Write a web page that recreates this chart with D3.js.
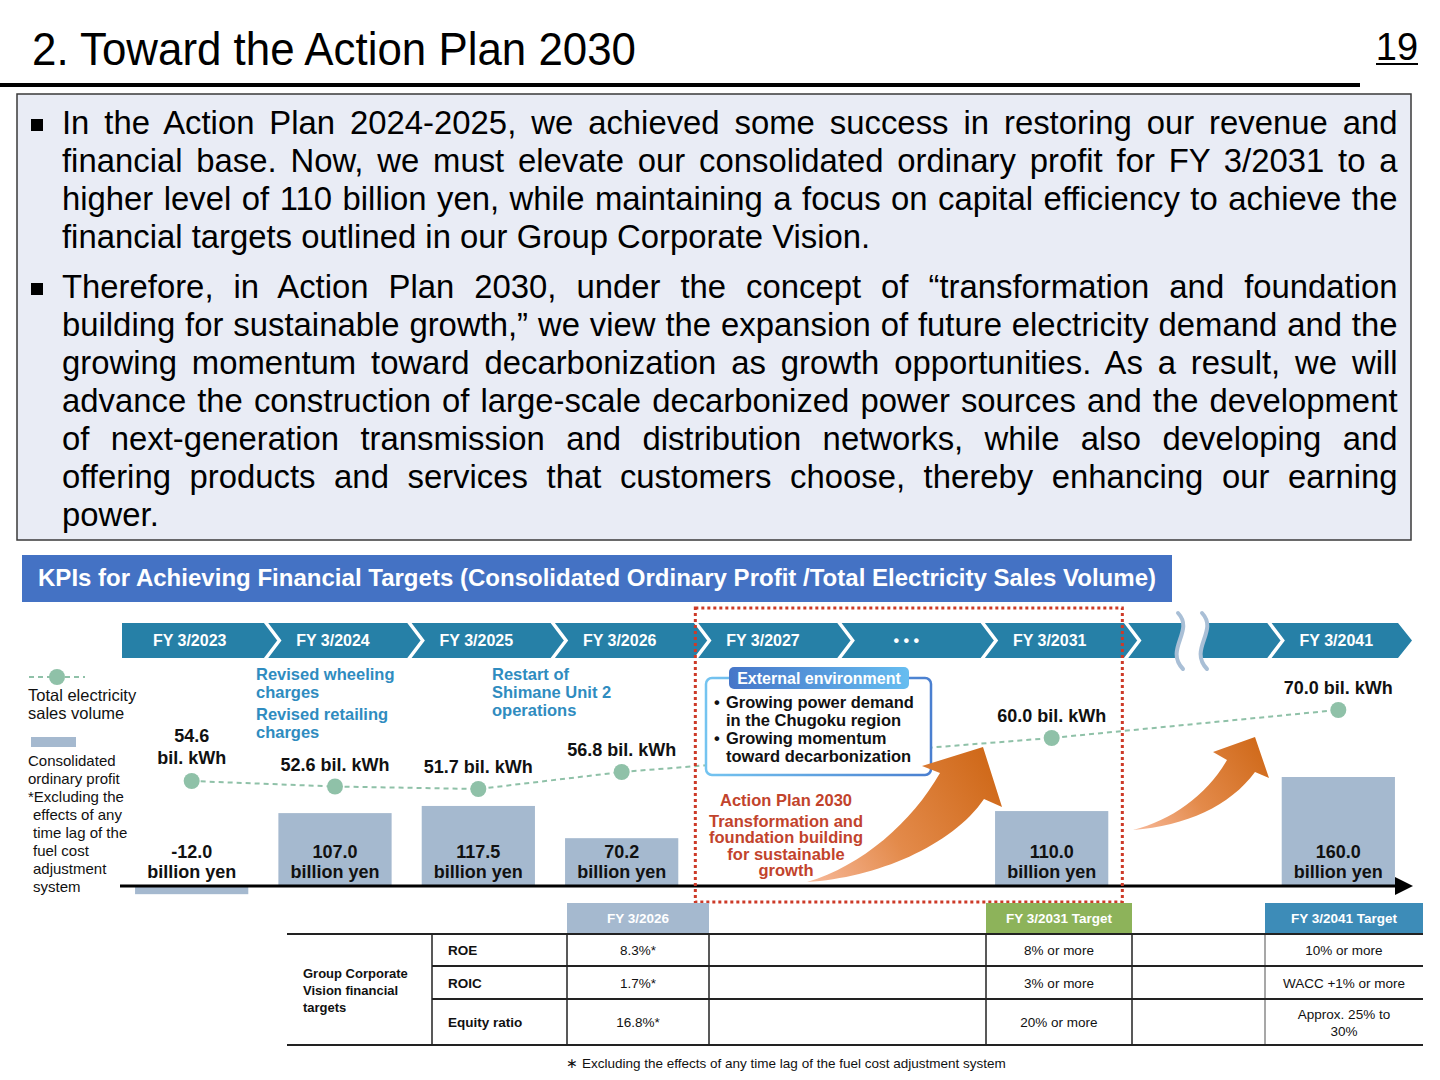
<!DOCTYPE html>
<html>
<head>
<meta charset="utf-8">
<script src="https://cdn.jsdelivr.net/npm/d3@7"></script>
<style>
  body { margin: 0; background: #fff; }
  svg { display: block; }
</style>
</head>
<body>
<div id="slide"></div>
<script>
// timeline slots (the chevron band), "gap" and "break" have no bar
var slots = ["FY 3/2023", "FY 3/2024", "FY 3/2025", "FY 3/2026", "FY 3/2027", "gap", "FY 3/2031", "break", "FY 3/2041"];
var slotLabels = ["FY 3/2023", "FY 3/2024", "FY 3/2025", "FY 3/2026", "FY 3/2027", "• • •", "FY 3/2031", "", "FY 3/2041"];

// consolidated ordinary profit (billion yen) and total sales volume (bil. kWh)
var years = ["FY 3/2023", "FY 3/2024", "FY 3/2025", "FY 3/2026", "FY 3/2031", "FY 3/2041"];
var profit = [-12.0, 107.0, 117.5, 70.2, 110.0, 160.0];
var sales = [54.6, 52.6, 51.7, 56.8, 60.0, 70.0];

// KPI table
var kpiNames = ["ROE", "ROIC", "Equity ratio"];
var kpiHeads = ["FY 3/2026", "FY 3/2031 Target", "FY 3/2041 Target"];
var kpi2026 = ["8.3%*", "1.7%*", "16.8%*"];
var kpi2031 = ["8% or more", "3% or more", "20% or more"];
var kpi2041 = ["10% or more", "WACC +1% or more", "Approx. 25% to|30%"];

var para1 = [
  "In the Action Plan 2024-2025, we achieved some success in restoring our revenue and",
  "financial base. Now, we must elevate our consolidated ordinary profit for FY 3/2031 to a",
  "higher level of 110 billion yen, while maintaining a focus on capital efficiency to achieve the",
  "financial targets outlined in our Group Corporate Vision."
];
var para2 = [
  "Therefore, in Action Plan 2030, under the concept of \u201ctransformation and foundation",
  "building for sustainable growth,\u201d we view the expansion of future electricity demand and the",
  "growing momentum toward decarbonization as growth opportunities. As a result, we will",
  "advance the construction of large-scale decarbonized power sources and the development",
  "of next-generation transmission and distribution networks, while also developing and",
  "offering products and services that customers choose, thereby enhancing our earning",
  "power."
];

var SANS = "'Liberation Sans', Arial, sans-serif";
var NARROW = "'Liberation Sans Narrow', 'Arial Narrow', 'Liberation Sans', Arial, sans-serif";

var svg = d3.select("#slide").append("svg")
  .attr("width", 1440)
  .attr("height", 1080)
  .attr("font-family", SANS);

var fmt = function(v) { return d3.format(".1f")(v).replace("\u2212", "-"); };

var defs = svg.append("defs");
function grad(id, x1, y1, x2, y2, stops) {
  var g = defs.append("linearGradient").attr("id", id)
    .attr("gradientUnits", "userSpaceOnUse")
    .attr("x1", x1).attr("y1", y1).attr("x2", x2).attr("y2", y2);
  stops.forEach(function(s) {
    g.append("stop").attr("offset", s[0]).attr("stop-color", s[1]);
  });
}
grad("arrow1", 810, 880, 990, 770, [[0, "#f7b898"], [0.45, "#e38a4a"], [1, "#d06a1b"]]);
grad("arrow2", 1135, 828, 1260, 745, [[0, "#f7b898"], [0.45, "#e38a4a"], [1, "#d06a1b"]]);
grad("tabFill", 729, 0, 909, 0, [[0, "#4676c8"], [1, "#66bdf0"]]);
grad("envStroke", 706, 0, 931, 0, [[0, "#74c4f0"], [1, "#4a7fd0"]]);

// ---------- title ----------
svg.append("text")
  .attr("x", 32).attr("y", 65)
  .attr("font-family", NARROW)
  .attr("font-size", 46)
  .attr("textLength", 604)
  .attr("lengthAdjust", "spacingAndGlyphs")
  .text("2. Toward the Action Plan 2030");

svg.append("text")
  .attr("x", 1397).attr("y", 60)
  .attr("text-anchor", "middle")
  .attr("font-size", 38)
  .text("19");
svg.append("line")
  .attr("x1", 1376).attr("x2", 1418)
  .attr("y1", 64).attr("y2", 64)
  .attr("stroke", "#000").attr("stroke-width", 2);

svg.append("rect")
  .attr("x", 0).attr("y", 83)
  .attr("width", 1360).attr("height", 4)
  .attr("fill", "#000");

// ---------- text box ----------
svg.append("rect")
  .attr("x", 17).attr("y", 94)
  .attr("width", 1394).attr("height", 446)
  .attr("fill", "#e9ecf5")
  .attr("stroke", "#3a3a3a")
  .attr("stroke-width", 1.5);

var textG = svg.append("g")
  .attr("font-family", SANS)
  .attr("font-size", 34)
  .attr("fill", "#000");

var lineW = 1336;
var allLines = [];
[[para1, 134], [para2, 298]].forEach(function(p) {
  svg.append("rect")
    .attr("x", 31).attr("y", p[1] - 15)
    .attr("width", 12).attr("height", 12)
    .attr("fill", "#000");
  p[0].forEach(function(s, i) {
    var t = textG.append("text").attr("y", p[1] + i * 38).text(s);
    allLines.push({ t: t, s: s, last: i === p[0].length - 1, w: t.node().getComputedTextLength() });
  });
});
// squeeze the glyphs just enough for the longest line, then justify with word gaps
var k = 1;
allLines.forEach(function(l) {
  if (!l.last) k = Math.min(k, (lineW - 10) / l.w);
});
textG.attr("transform", "scale(" + k + ",1)");
allLines.forEach(function(l) {
  l.t.attr("x", 62 / k);
  if (!l.last) {
    var gaps = l.s.split(" ").length - 1;
    l.t.style("word-spacing", ((lineW / k - l.w) / gaps) + "px");
  }
});

// ---------- section header ----------
svg.append("rect")
  .attr("x", 22).attr("y", 555)
  .attr("width", 1150).attr("height", 47)
  .attr("fill", "#4472c4");
svg.append("text")
  .attr("x", 38).attr("y", 586)
  .attr("font-family", NARROW)
  .attr("font-weight", "bold")
  .attr("font-size", 24)
  .attr("fill", "#fff")
  .attr("textLength", 1118)
  .attr("lengthAdjust", "spacingAndGlyphs")
  .text("KPIs for Achieving Financial Targets (Consolidated Ordinary Profit /Total Electricity Sales Volume)");

// ---------- scales ----------
var x = d3.scaleBand().domain(slots).range([122, 1412]);
var bw = x.bandwidth();
var xc = function(s) { return x(s) + bw / 2; };

var yBar = d3.scaleLinear().domain([0, 160]).range([886, 777]);
// the slide spaces the sales points unevenly, so a piecewise scale follows it
var ySales = d3.scaleLinear()
  .domain([51.7, 54.6, 56.8, 60.0, 70.0])
  .range([789, 781, 772, 738, 710]);

// ---------- chevron band ----------
var cTop = 623, cBot = 658, cMid = 640.5, tip = 14;
var chev = svg.append("g");
chev.selectAll("path.seg")
  .data(slots)
  .join("path")
  .attr("class", "seg")
  .attr("fill", "#2680a7")
  .attr("d", function(s, i) {
    var x0 = x(s), x1 = x0 + bw;
    if (i === slots.length - 1) x1 -= tip;
    var pts = [[x0, cTop], [x1, cTop], [x1 + tip, cMid], [x1, cBot], [x0, cBot]];
    if (i > 0) pts.push([x0 + tip, cMid]);
    return "M" + pts.join("L") + "Z";
  });
chev.selectAll("path.sep")
  .data(slots.slice(1))
  .join("path")
  .attr("class", "sep")
  .attr("fill", "none")
  .attr("stroke", "#fff")
  .attr("stroke-width", 3.5)
  .attr("d", function(s) {
    var x0 = x(s);
    return "M" + x0 + "," + (cTop - 1) + "L" + (x0 + tip) + "," + cMid + "L" + x0 + "," + (cBot + 1);
  });
chev.selectAll("text")
  .data(slots)
  .join("text")
  .attr("x", function(s) { return xc(s) - 4; })
  .attr("y", 646)
  .attr("text-anchor", "middle")
  .attr("font-weight", "bold")
  .attr("font-size", 16)
  .attr("fill", "#fff")
  .text(function(s, i) { return slotLabels[i]; });

// wavy break
var bc = xc("break") - 5;
function wave(c) {
  return "M" + (c - 2) + ",613 C" + (c + 15) + ",631 " + (c - 16) + ",649 " + (c + 3) + ",669";
}
chev.append("path").attr("d", wave(bc))
  .attr("fill", "none").attr("stroke", "#fff").attr("stroke-width", 22);
[bc - 12, bc + 12].forEach(function(c) {
  chev.append("path").attr("d", wave(c))
    .attr("fill", "none")
    .attr("stroke", "#a9bfd6")
    .attr("stroke-width", 4)
    .attr("stroke-linecap", "round");
});

// ---------- legend ----------
var leg = svg.append("g").attr("font-size", 15.5).attr("fill", "#111");
leg.append("line")
  .attr("x1", 29).attr("x2", 85).attr("y1", 677).attr("y2", 677)
  .attr("stroke", "#8fc1a8").attr("stroke-width", 2).attr("stroke-dasharray", "5 4");
leg.append("circle").attr("cx", 57).attr("cy", 677).attr("r", 8).attr("fill", "#8fc1a8");
leg.append("text").attr("x", 28).attr("y", 701).attr("font-size", 16.5).text("Total electricity");
leg.append("text").attr("x", 28).attr("y", 719).attr("font-size", 16.5).text("sales volume");
leg.append("rect").attr("x", 31).attr("y", 737).attr("width", 45).attr("height", 10).attr("fill", "#a5b9cf");
[["Consolidated", 28], ["ordinary profit", 28], ["*Excluding the", 28], ["effects of any", 33],
 ["time lag of the", 33], ["fuel cost", 33], ["adjustment", 33], ["system", 33]].forEach(function(d, i) {
  leg.append("text").attr("x", d[1]).attr("y", 766 + i * 18).attr("font-size", 15).text(d[0]);
});

// ---------- annotations ----------
var ann = svg.append("g").attr("font-size", 16.5).attr("font-weight", "bold").attr("fill", "#2f8cc0");
[["Revised wheeling", 680], ["charges", 698], ["Revised retailing", 720], ["charges", 738]].forEach(function(d) {
  ann.append("text").attr("x", 256).attr("y", d[1]).text(d[0]);
});
[["Restart of", 680], ["Shimane Unit 2", 698], ["operations", 716]].forEach(function(d) {
  ann.append("text").attr("x", 492).attr("y", d[1]).text(d[0]);
});

// ---------- bars ----------
var barW = bw * 0.79;
svg.append("g").selectAll("rect")
  .data(profit)
  .join("rect")
  .attr("x", function(d, i) { return xc(years[i]) - 2 - barW / 2; })
  .attr("y", function(d) { return Math.min(yBar(d), yBar(0)); })
  .attr("width", barW)
  .attr("height", function(d) { return Math.abs(yBar(d) - yBar(0)); })
  .attr("fill", "#a5b9cf");

var barLab = svg.append("g")
  .attr("text-anchor", "middle")
  .attr("font-weight", "bold")
  .attr("font-size", 18)
  .attr("fill", "#111");
profit.forEach(function(v, i) {
  barLab.append("text").attr("x", xc(years[i]) - 2).attr("y", yBar(0) - 28).text(fmt(v));
  barLab.append("text").attr("x", xc(years[i]) - 2).attr("y", yBar(0) - 8).text("billion yen");
});

// base axis with arrow
svg.append("line")
  .attr("x1", 120).attr("x2", 1400)
  .attr("y1", yBar(0)).attr("y2", yBar(0))
  .attr("stroke", "#000").attr("stroke-width", 3);
svg.append("path")
  .attr("d", "M1395," + (yBar(0) - 9) + "L1413," + yBar(0) + "L1395," + (yBar(0) + 9) + "Z")
  .attr("fill", "#000");

// ---------- sales line ----------
var line = d3.line()
  .x(function(d, i) { return xc(years[i]) - 2; })
  .y(function(d) { return ySales(d); });
svg.append("path")
  .datum(sales)
  .attr("d", line)
  .attr("fill", "none")
  .attr("stroke", "#8fc1a8")
  .attr("stroke-width", 2)
  .attr("stroke-dasharray", "5 4");
svg.append("g").selectAll("circle")
  .data(sales)
  .join("circle")
  .attr("cx", function(d, i) { return xc(years[i]) - 2; })
  .attr("cy", function(d) { return ySales(d); })
  .attr("r", 8)
  .attr("fill", "#8fc1a8");

var salesLab = svg.append("g")
  .attr("text-anchor", "middle")
  .attr("font-weight", "bold")
  .attr("font-size", 18)
  .attr("fill", "#111");
sales.forEach(function(v, i) {
  var cx = xc(years[i]) - 2, cy = ySales(v);
  if (i === 0) {
    salesLab.append("text").attr("x", cx).attr("y", cy - 39).text(fmt(v));
    salesLab.append("text").attr("x", cx).attr("y", cy - 17).text("bil. kWh");
  } else {
    salesLab.append("text").attr("x", cx).attr("y", cy - 16).text(fmt(v) + " bil. kWh");
  }
});

// ---------- external environment box ----------
var env = svg.append("g");
env.append("rect")
  .attr("x", 706).attr("y", 678).attr("width", 225).attr("height", 97).attr("rx", 6)
  .attr("fill", "#fff").attr("stroke", "url(#envStroke)").attr("stroke-width", 2.5);
env.append("rect")
  .attr("x", 729).attr("y", 667).attr("width", 180).attr("height", 22).attr("rx", 5)
  .attr("fill", "url(#tabFill)");
env.append("text")
  .attr("x", 819).attr("y", 684)
  .attr("text-anchor", "middle").attr("font-weight", "bold").attr("font-size", 16)
  .attr("fill", "#fff").text("External environment");
var envT = env.append("g").attr("font-weight", "bold").attr("font-size", 16.5).attr("fill", "#111");
[["•", 714, 708], ["Growing power demand", 726, 708], ["in the Chugoku region", 726, 726],
 ["•", 714, 744], ["Growing momentum", 726, 744], ["toward decarbonization", 726, 762]].forEach(function(d) {
  envT.append("text").attr("x", d[1]).attr("y", d[2]).text(d[0]);
});

// ---------- action plan text and arrows ----------
var red = svg.append("g")
  .attr("text-anchor", "middle").attr("font-weight", "bold").attr("font-size", 16.5)
  .attr("fill", "#c2432c");
[["Action Plan 2030", 806], ["Transformation and", 827], ["foundation building", 843],
 ["for sustainable", 860], ["growth", 876]].forEach(function(d) {
  red.append("text").attr("x", 786).attr("y", d[1]).text(d[0]);
});

svg.append("path")
  .attr("d", "M807,882 C862,866 912,822 940,773 L922,766 L983,747 L1002,807 L984,799 C952,846 876,878 807,882 Z")
  .attr("fill", "url(#arrow1)");
svg.append("path")
  .attr("d", "M1133,830 C1172,820 1207,795 1227,760 L1213,752 L1255,737 L1269,778 L1255,772 C1230,806 1186,826 1133,830 Z")
  .attr("fill", "url(#arrow2)");

// dotted frame around Action Plan 2030
svg.append("rect")
  .attr("x", x("FY 3/2027")).attr("y", 608)
  .attr("width", x("break") - 3 - x("FY 3/2027")).attr("height", 294)
  .attr("fill", "none")
  .attr("stroke", "#cd3a28")
  .attr("stroke-width", 3)
  .attr("stroke-dasharray", "3 3");

// ---------- KPI table ----------
var colX = [287, 432, 567, 709, 986, 1132, 1265, 1423];
var rowY = [934, 966, 999, 1045];
var headCols = [2, 4, 6];
var headFill = ["#a5b9cf", "#8db35a", "#3d8cb8"];
var tbl = svg.append("g").attr("font-size", 13.5).attr("fill", "#111");

headCols.forEach(function(c, i) {
  tbl.append("rect")
    .attr("x", colX[c]).attr("y", 903)
    .attr("width", colX[c + 1] - colX[c]).attr("height", 31)
    .attr("fill", headFill[i]);
  tbl.append("text")
    .attr("x", (colX[c] + colX[c + 1]) / 2).attr("y", 923)
    .attr("text-anchor", "middle").attr("font-weight", "bold").attr("font-size", 13.5)
    .attr("fill", "#fff").text(kpiHeads[i]);
});

colX.slice(1, 7).forEach(function(cx, i) {
  tbl.append("line")
    .attr("x1", cx).attr("x2", cx).attr("y1", rowY[0]).attr("y2", rowY[3])
    .attr("stroke", i === 5 ? "#8a8a8a" : "#222").attr("stroke-width", 1.5);
});
rowY.forEach(function(y, i) {
  tbl.append("line")
    .attr("x1", i === 0 || i === 3 ? colX[0] : colX[1]).attr("x2", colX[7])
    .attr("y1", y).attr("y2", y)
    .attr("stroke", "#222").attr("stroke-width", 2);
});

["Group Corporate", "Vision financial", "targets"].forEach(function(s, i) {
  tbl.append("text").attr("x", 303).attr("y", 978 + i * 17)
    .attr("font-weight", "bold").attr("font-size", 13).text(s);
});

var valueCols = [[2, kpi2026], [4, kpi2031], [6, kpi2041]];
kpiNames.forEach(function(name, r) {
  var cy = (rowY[r] + rowY[r + 1]) / 2;
  tbl.append("text").attr("x", 448).attr("y", cy + 5)
    .attr("font-weight", "bold").text(name);
  valueCols.forEach(function(vc) {
    var parts = vc[1][r].split("|");
    parts.forEach(function(p, j) {
      tbl.append("text")
        .attr("x", (colX[vc[0]] + colX[vc[0] + 1]) / 2)
        .attr("y", cy + 5 + (j - (parts.length - 1) / 2) * 17)
        .attr("text-anchor", "middle")
        .text(p);
    });
  });
});

svg.append("text")
  .attr("x", 786).attr("y", 1068)
  .attr("text-anchor", "middle")
  .attr("font-size", 13.5)
  .attr("fill", "#111")
  .text("\u2217 Excluding the effects of any time lag of the fuel cost adjustment system");
</script>
</body>
</html>
